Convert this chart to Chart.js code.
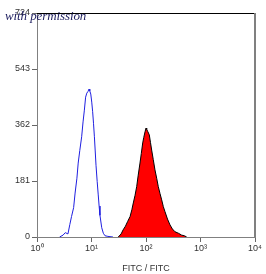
<!DOCTYPE html>
<html>
<head>
<meta charset="utf-8">
<script src="https://cdn.jsdelivr.net/npm/chart.js@4/dist/chart.umd.min.js"></script>
<style>
  html, body { margin: 0; padding: 0; background: #fff; }
  #wrap { position: relative; width: 266px; height: 274px; }
  #note {
    position: absolute; left: 5px; top: 8px;
    font-family: "Liberation Serif", "DejaVu Serif", serif;
    font-style: italic; font-size: 13px; color: #1c1c5e;
    letter-spacing: -0.1px;
  }
</style>
</head>
<body>
<div id="wrap">
  <canvas id="histo" width="266" height="274"></canvas>
  <div id="note">with permission</div>
</div>
<script>
const xTicks = [1, 10, 100, 1000, 10000];
const xTickLabels = ["10\u2070", "10\u00b9", "10\u00b2", "10\u00b3", "10\u2074"];
const yTicks = [0, 181, 362, 543, 724];
const xTitle = "FITC / FITC";

// control (unstained) histogram, blue outline
const blueX = [2.6, 3.0, 3.3, 3.7, 4.0, 4.3, 4.7, 5.0, 5.4, 5.7, 6.1, 6.6, 7.0, 7.4, 7.8, 8.2, 8.6, 9.0, 9.3, 9.7,
  10.1, 10.5, 10.9, 11.3, 11.7, 12.1, 12.7, 13.3, 13.8, 14.3, 15.4, 16.5, 17.7, 20, 24.8];
const blueY = [0, 6, 14, 10, 40, 66, 95, 142, 190, 239, 280, 324, 372, 410, 452, 465, 470, 478, 472, 462,
  436, 405, 366, 324, 278, 232, 180, 136, 100, 70, 30, 12, 4, 2, 0];

// stained histogram, red fill
const redX = [31, 35, 38, 42, 46, 51, 55, 58.5, 63, 67.5, 72, 77.6, 82, 87, 91, 96, 100, 103, 107, 111,
  115, 121, 127, 136, 146, 157, 168, 181, 194, 208, 223, 248, 276, 305, 340, 395, 452, 505, 558];
const redY = [0, 10, 23, 35, 50, 66, 88, 110, 135, 163, 200, 239, 270, 304, 322, 340, 352, 348, 342, 336,
  330, 305, 281, 250, 217, 190, 163, 140, 120, 98, 82, 58, 39, 26, 17, 12, 6, 4, 0];

const toPoints = (xs, ys) => xs.map((x, i) => ({ x, y: ys[i] }));

const tickFont = { family: "'Liberation Sans', Arial, sans-serif", size: 9 };

// top (black) and right (grey) edges of the plot frame
const frame = {
  id: "frame",
  afterDraw(chart) {
    const { ctx, chartArea: a } = chart;
    ctx.save();
    ctx.strokeStyle = "#000";
    ctx.lineWidth = 1;
    ctx.beginPath();
    ctx.moveTo(a.left, a.top + 0.5);
    ctx.lineTo(a.right + 1, a.top + 0.5);
    ctx.stroke();
    ctx.strokeStyle = "#808080";
    ctx.lineWidth = 2;
    ctx.beginPath();
    ctx.moveTo(a.right, a.top);
    ctx.lineTo(a.right, a.bottom);
    ctx.stroke();
    ctx.restore();
  },
};

new Chart(document.getElementById("histo"), {
  type: "line",
  data: {
    datasets: [
      {
        data: toPoints(redX, redY),
        borderColor: "#000",
        backgroundColor: "#ff0000",
        borderWidth: 1,
        fill: "origin",
        pointRadius: 0,
        tension: 0,
      },
      {
        data: toPoints(blueX, blueY),
        borderColor: "#1f1fe0",
        borderWidth: 1,
        fill: false,
        pointRadius: 0,
        tension: 0,
      },
    ],
  },
  options: {
    responsive: false,
    animation: false,
    layout: { padding: { left: 0, top: 13, right: 11, bottom: 0 } },
    plugins: { legend: { display: false }, tooltip: { enabled: false } },
    scales: {
      x: {
        type: "logarithmic",
        min: 1,
        max: 10000,
        afterBuildTicks: (s) => { s.ticks = xTicks.map((v) => ({ value: v })); },
        afterFit: (s) => { s.height = 37; },
        ticks: {
          autoSkip: false,
          maxRotation: 0,
          padding: 1,
          color: "#333",
          font: tickFont,
          callback: (v) => xTickLabels[xTicks.indexOf(v)],
        },
        grid: { drawOnChartArea: false, drawTicks: true, tickLength: 5, color: "#666" },
        border: { color: "#808080", width: 1 },
        title: { display: true, text: xTitle, color: "#333", font: tickFont, padding: { top: 4, bottom: 0 } },
      },
      y: {
        min: 0,
        max: 724,
        afterBuildTicks: (s) => { s.ticks = yTicks.map((v) => ({ value: v })); },
        afterFit: (s) => { s.width = 37; },
        ticks: { padding: 2, color: "#333", font: tickFont },
        grid: { drawOnChartArea: false, drawTicks: true, tickLength: 5, color: "#666" },
        border: { color: "#808080", width: 1 },
      },
    },
  },
  plugins: [frame],
});
</script>
</body>
</html>
